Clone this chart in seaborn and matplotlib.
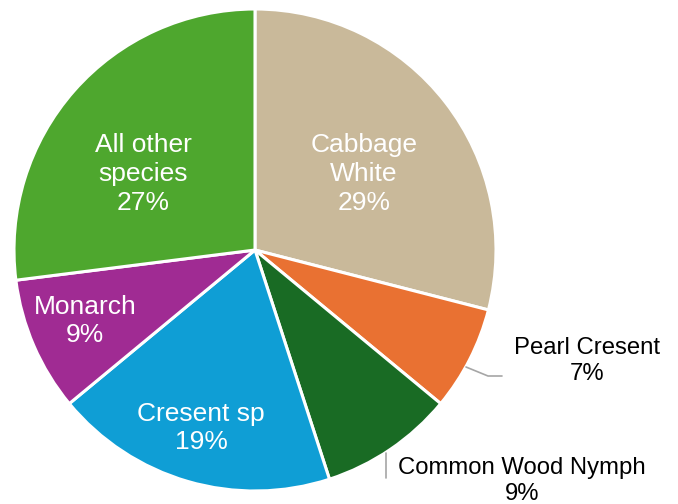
import matplotlib
matplotlib.use("Agg")
import matplotlib.pyplot as plt
import seaborn as sns

species = ["Cabbage\nWhite", "Pearl Cresent", "Common Wood Nymph", "Cresent sp", "Monarch", "All other\nspecies"]
shares = [29, 7, 9, 19, 9, 27]
colors = ["#C9B99A", "#E97132", "#196B24", "#0F9ED5", "#A02B93", "#4EA72E"]
label_colors = ["white", "black", "black", "white", "white", "white"]
inside = [True, False, False, True, True, True]

sns.set_theme(style="white")
plt.rcParams["font.family"] = ["Liberation Sans", "DejaVu Sans"]

W, H = 678, 504
cx, cy, r = 255, 250, 241
fig = plt.figure(figsize=(W / 100, H / 100), dpi=100)
ax = fig.add_axes([(cx - r) / W, (H - cy - r) / H, 2 * r / W, 2 * r / H])

ax.pie(shares, colors=colors, startangle=90, counterclock=False,
       wedgeprops=dict(edgecolor="white", linewidth=2.2), radius=1)
ax.set_xlim(-1, 1)
ax.set_ylim(-1, 1)
ax.set_aspect("equal")
ax.axis("off")


def px(x, y):
    return (x - cx) / r, (cy - y) / r


# label anchor points (pixel positions of the text block centres)
label_pos = [(364, 174), (587, 361), (522, 481), (201, 428), (85, 321), (143, 174)]
for name, val, (x, y), c, ins in zip(species, shares, label_pos, label_colors, inside):
    dx, dy = px(x, y)
    ax.text(dx, dy, f"{name}\n{val}%", ha="center", va="center", color=c,
            fontsize=19 if ins else 17.2, linespacing=1.26 if ins else 1.27)

# leader lines for the small outside labels
lc = "#A6A6A6"
p = [px(466, 367), px(488, 376), px(502, 376)]
ax.plot([q[0] for q in p], [q[1] for q in p], color=lc, lw=1.2, clip_on=False)
p = [px(386, 453), px(386, 478)]
ax.plot([q[0] for q in p], [q[1] for q in p], color=lc, lw=1.2, clip_on=False)

fig.savefig("out.png", dpi=100, facecolor="white")
